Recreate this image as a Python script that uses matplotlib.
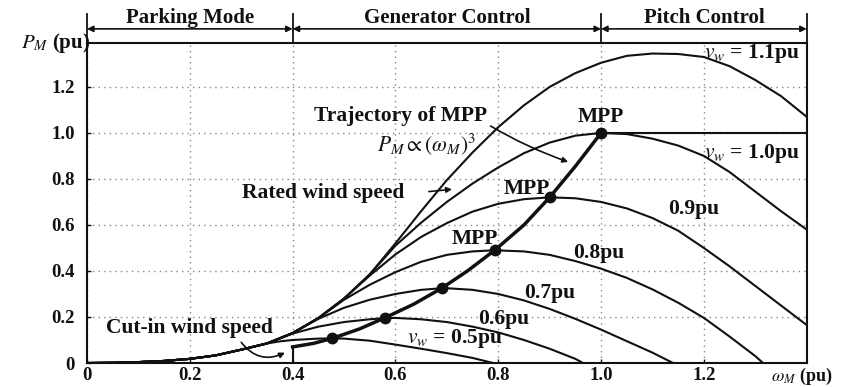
import numpy as np
import matplotlib
matplotlib.use("Agg")
import matplotlib.pyplot as plt

plt.rcParams['font.family'] = ['Liberation Serif', 'DejaVu Serif']
plt.rcParams['mathtext.fontset'] = 'stix'

# common low-speed part shared by all curves (omega_M, P_M in pu)
env_w = [0, 0.05, 0.1, 0.15, 0.2, 0.25, 0.3, 0.35, 0.4, 0.45, 0.5, 0.55]
env_p = [0, 0.001, 0.004, 0.009, 0.018, 0.033, 0.058, 0.085, 0.13, 0.195, 0.28, 0.385]

# each wind speed curve from where it leaves the common part
w_05 = [0.35, 0.375, 0.4, 0.45, 0.48, 0.5, 0.55, 0.6, 0.65, 0.7, 0.75, 0.79]
p_05 = [0.085, 0.094, 0.1, 0.106, 0.107, 0.106, 0.097, 0.08, 0.062, 0.043, 0.022, 0.0]

w_06 = [0.4, 0.45, 0.5, 0.55, 0.58, 0.6, 0.65, 0.7, 0.75, 0.8, 0.85, 0.9, 0.95, 0.965]
p_06 = [0.128, 0.158, 0.178, 0.19, 0.195, 0.196, 0.19, 0.178, 0.158, 0.133, 0.1, 0.062, 0.018, 0.0]

w_07 = [0.45, 0.5, 0.55, 0.6, 0.65, 0.69, 0.7, 0.75, 0.8, 0.85, 0.9, 0.95, 1.0, 1.05, 1.1, 1.14]
p_07 = [0.192, 0.24, 0.275, 0.3, 0.318, 0.325, 0.325, 0.318, 0.3, 0.272, 0.235, 0.192, 0.145, 0.095, 0.045, 0.0]

w_08 = [0.5, 0.55, 0.6, 0.65, 0.7, 0.75, 0.793, 0.85, 0.9, 0.95, 1.0, 1.05, 1.1, 1.15, 1.2, 1.25, 1.3, 1.315]
p_08 = [0.275, 0.34, 0.395, 0.44, 0.47, 0.485, 0.49, 0.485, 0.47, 0.443, 0.41, 0.37, 0.32, 0.262, 0.196, 0.115, 0.03, 0.0]

w_09 = [0.55, 0.6, 0.65, 0.7, 0.75, 0.8, 0.85, 0.9, 0.95, 1.0, 1.05, 1.1, 1.15, 1.2, 1.25, 1.3, 1.35, 1.4]
p_09 = [0.38, 0.472, 0.548, 0.608, 0.658, 0.692, 0.712, 0.72, 0.716, 0.7, 0.672, 0.63, 0.575, 0.5, 0.42, 0.335, 0.25, 0.165]

w_10 = [0.55, 0.6, 0.65, 0.7, 0.75, 0.8, 0.85, 0.9, 0.95, 1.0, 1.05, 1.1, 1.15, 1.2, 1.25, 1.3, 1.35, 1.4]
p_10 = [0.385, 0.51, 0.61, 0.7, 0.78, 0.85, 0.912, 0.958, 0.988, 1.0, 0.995, 0.975, 0.945, 0.9, 0.83, 0.745, 0.66, 0.58]

w_11 = [0.55, 0.6, 0.65, 0.7, 0.75, 0.8, 0.85, 0.9, 0.95, 1.0, 1.05, 1.1, 1.15, 1.2, 1.25, 1.3, 1.35, 1.4]
p_11 = [0.385, 0.52, 0.66, 0.795, 0.915, 1.025, 1.12, 1.2, 1.26, 1.305, 1.335, 1.345, 1.343, 1.33, 1.29, 1.23, 1.16, 1.07]

# pitch control limit
limit_w = [1.0, 1.4]
limit_p = [1.0, 1.0]

# trajectory of MPP and the MPP points
traj_w = [0.4, 0.44, 0.477, 0.53, 0.58, 0.635, 0.69, 0.74, 0.793, 0.85, 0.9, 0.95, 1.0]
traj_p = [0.07, 0.085, 0.107, 0.148, 0.197, 0.255, 0.325, 0.4, 0.49, 0.6, 0.72, 0.855, 1.0]
mpp_w = [0.477, 0.58, 0.69, 0.793, 0.9, 1.0]
mpp_p = [0.107, 0.197, 0.325, 0.49, 0.72, 1.0]

# operating regions
region_edges = [0, 0.4, 1.0, 1.4]
region_names = ['Parking Mode', 'Generator Control', 'Pitch Control']

xticks = [0, 0.2, 0.4, 0.6, 0.8, 1.0, 1.2]
xlabels = ['0', '0.2', '0.4', '0.6', '0.8', '1.0', '1.2']
yticks = [0, 0.2, 0.4, 0.6, 0.8, 1.0, 1.2]
ylabels = ['0', '0.2', '0.4', '0.6', '0.8', '1.0', '1.2']

curves = [(w_05, p_05), (w_06, p_06), (w_07, p_07), (w_08, p_08),
          (w_09, p_09), (w_10, p_10), (w_11, p_11)]

fig = plt.figure(figsize=(8.48, 3.87), dpi=100)
ax = fig.add_axes([0.1026, 0.062, 0.8487, 0.827])

col = '#111111'
for w, p in curves:
    pre_w = [x for x in env_w if x < w[0]]
    pre_p = env_p[:len(pre_w)]
    ax.plot(pre_w + w, pre_p + p, color=col, lw=1.5, solid_capstyle='round')

ax.plot(limit_w, limit_p, color=col, lw=1.5)
ax.plot(traj_w, traj_p, color=col, lw=2.5)
ax.plot(mpp_w, mpp_p, 'o', color=col, ms=7.5)
# cut-in mark
ax.plot([0.4, 0.4], [0, 0.07], color=col, lw=1.5)

ax.set_xlim(0, 1.4)
ax.set_ylim(0, 1.391)
ax.set_xticks(xticks)
ax.set_xticklabels(xlabels)
ax.set_yticks(yticks)
ax.set_yticklabels(ylabels)
ax.tick_params(direction='in', length=3, width=1, labelsize=13.5, colors=col)
ax.tick_params(axis='x', pad=3)
ax.tick_params(axis='y', pad=9)
for lab in ax.get_xticklabels() + ax.get_yticklabels():
    lab.set_fontweight('bold')
ax.grid(True, linestyle=(0, (1, 3)), color='#888888', lw=1.0)
for s in ax.spines.values():
    s.set_color(col)
    s.set_linewidth(1.5)

# header with regions
trans = ax.get_xaxis_transform()
for x in region_edges:
    ax.plot([x, x], [1.0, 1.09], transform=trans, color=col, lw=1.3, clip_on=False)
for i, name in enumerate(region_names):
    a, b = region_edges[i], region_edges[i + 1]
    ax.annotate('', xy=(b, 1.044), xytext=(a, 1.044), xycoords=trans, textcoords=trans,
                arrowprops=dict(arrowstyle='<|-|>', color=col, lw=1.2, mutation_scale=9,
                                shrinkA=0, shrinkB=0), annotation_clip=False)
    ax.text((a + b) / 2, 1.078, name, transform=trans, ha='center', va='center',
            fontsize=15, fontweight='bold', color=col)

# axis labels
ax.text(0.004, 1.0, r'$P_M$ (pu)', transform=ax.transAxes, ha='right', va='center',
        fontsize=15, fontweight='bold', color=col)
ax.text(0.95, -0.041, r'$\omega_M$ (pu)', transform=ax.transAxes, ha='left', va='center',
        fontsize=13, fontweight='bold', color=col)

tkw = dict(fontsize=15.5, fontweight='bold', color=col)
ax.text(1.2, 1.345, r'$v_w$ = 1.1pu', ha='left', va='center', **tkw)
ax.text(1.2, 0.91, r'$v_w$ = 1.0pu', ha='left', va='center', **tkw)
ax.text(1.18, 0.67, '0.9pu', ha='center', va='center', **tkw)
ax.text(0.995, 0.48, '0.8pu', ha='center', va='center', **tkw)
ax.text(0.9, 0.305, '0.7pu', ha='center', va='center', **tkw)
ax.text(0.81, 0.19, '0.6pu', ha='center', va='center', **tkw)
ax.text(0.715, 0.107, r'$v_w$ = 0.5pu', ha='center', va='center', **tkw)

ax.text(1.0, 1.068, 'MPP', ha='center', va='center', **tkw)
ax.text(0.855, 0.755, 'MPP', ha='center', va='center', **tkw)
ax.text(0.755, 0.54, 'MPP', ha='center', va='center', **tkw)

ax.text(0.61, 1.075, 'Trajectory of MPP', ha='center', va='center', **tkw)
ax.text(0.66, 0.95, r'$P_M \propto (\omega_M)^3$', ha='center', va='center', **tkw)
ax.annotate('', xy=(0.936, 0.874), xytext=(0.785, 1.03),
            arrowprops=dict(arrowstyle='-|>', color=col, lw=1.2, mutation_scale=8,
                            shrinkA=0, shrinkB=0, connectionstyle='arc3,rad=0.05'))

ax.text(0.46, 0.74, 'Rated wind speed', ha='center', va='center', **tkw)
ax.annotate('', xy=(0.71, 0.755), xytext=(0.665, 0.745),
            arrowprops=dict(arrowstyle='-|>', color=col, lw=1.2, mutation_scale=8,
                            shrinkA=0, shrinkB=0))

ax.text(0.2, 0.152, 'Cut-in wind speed', ha='center', va='center', **tkw)
ax.annotate('', xy=(0.385, 0.045), xytext=(0.3, 0.09),
            arrowprops=dict(arrowstyle='-|>', color=col, lw=1.2, mutation_scale=8,
                            shrinkA=0, shrinkB=0, connectionstyle='arc3,rad=0.4'))

fig.savefig('out.png', dpi=100)
